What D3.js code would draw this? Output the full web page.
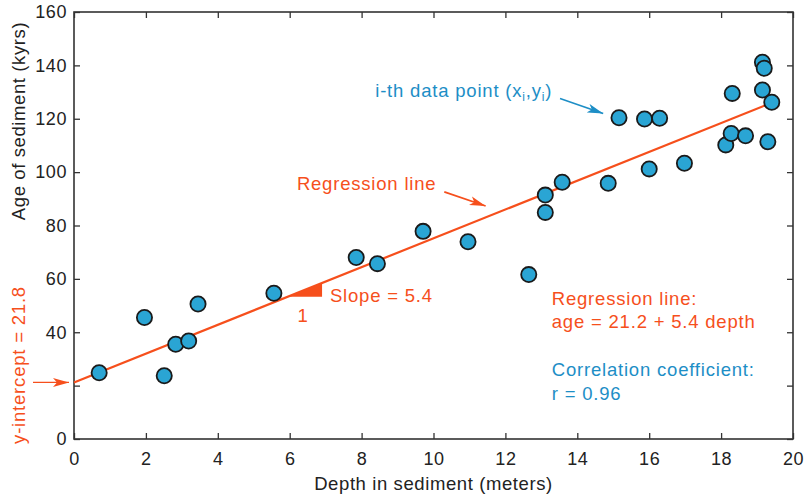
<!DOCTYPE html>
<html>
<head>
<meta charset="utf-8">
<script src="https://cdn.jsdelivr.net/npm/d3@7"></script>
<style>
  body { margin: 0; background: #fff; }
  svg text { font-family: "Liberation Sans", Arial, Helvetica, sans-serif; }
  .tick-label { font-size: 18px; fill: #222; letter-spacing: 0.6px; }
  .axis-title { font-size: 18.5px; fill: #222; letter-spacing: 0.6px; }
  .note { font-size: 18.5px; letter-spacing: 0.8px; }
</style>
</head>
<body>
<div id="chart"></div>
<script>
// Datos
const depth = [0.70, 1.96, 2.51, 2.83, 3.19, 3.45, 5.56, 7.85, 8.44, 9.71,
               10.96, 12.65, 13.11, 13.11, 13.58, 14.86, 15.16, 15.87, 16.29, 16.00,
               16.98, 18.13, 18.28, 18.68, 18.31, 19.30, 19.15, 19.41, 19.15, 19.20];
const age   = [24.8, 45.5, 23.7, 35.5, 36.7, 50.6, 54.6, 68.0, 65.7, 77.8,
               73.9, 61.6, 84.9, 91.4, 96.2, 95.8, 120.4, 119.9, 120.2, 101.2,
               103.3, 110.2, 114.5, 113.6, 129.5, 111.4, 130.8, 126.2, 141.2, 138.9];

const xTicks = [0, 2, 4, 6, 8, 10, 12, 14, 16, 18, 20];
const yTicks = [0, 20, 40, 60, 80, 100, 120, 140, 160];
// el 20 no lleva etiqueta (ahí va la flecha del intercepto)
const yHidden = [20];

const intercept = 21.2;
const slope = 5.4;
const lineRange = [0, 19.4];
const slopeStep = [5.95, 6.9];

const orange = "#f64f1c";
const blue = "#1d8ec6";
const pointFill = "#2aa5d4";

const margin = { top: 12, right: 14, bottom: 57, left: 74 };
const W = 807, H = 496;
const width = W - margin.left - margin.right;
const height = H - margin.top - margin.bottom;

const root = d3.select("#chart")
  .append("svg")
  .attr("width", W)
  .attr("height", H);

const defs = root.append("defs");
[["arrowOrange", orange], ["arrowBlue", blue]].forEach(([id, c]) => {
  defs.append("marker")
    .attr("id", id)
    .attr("viewBox", "0 0 16 10")
    .attr("refX", 16).attr("refY", 5)
    .attr("markerWidth", 16).attr("markerHeight", 10)
    .attr("markerUnits", "userSpaceOnUse")
    .attr("orient", "auto")
    .append("path")
    .attr("d", "M0,0.5 L16,5 L0,9.5 L4,5 Z")
    .attr("fill", c);
});

const svg = root.append("g")
  .attr("transform", `translate(${margin.left},${margin.top})`);

const x = d3.scaleLinear().domain([0, 20]).range([0, width]);
const y = d3.scaleLinear().domain([0, 160]).range([height, 0]);

// Ejes con ticks hacia adentro
svg.append("g")
  .attr("transform", `translate(0,${height})`)
  .call(d3.axisBottom(x).tickValues(xTicks).tickSize(-6).tickPadding(9).tickFormat(d3.format("d")))
  .call(g => g.select(".domain").remove())
  .call(g => g.selectAll("line").attr("stroke", "#333").attr("stroke-width", 1.3))
  .call(g => g.selectAll("text").attr("class", "tick-label").attr("font-size", null).attr("font-family", null).attr("dy", "0.95em"));

svg.append("g")
  .call(d3.axisLeft(y).tickValues(yTicks).tickSize(-6).tickPadding(7)
    .tickFormat(d => yHidden.includes(d) ? "" : d3.format("d")(d)))
  .call(g => g.select(".domain").remove())
  .call(g => g.selectAll("line").attr("stroke", "#333").attr("stroke-width", 1.3))
  .call(g => g.selectAll("text").attr("class", "tick-label").attr("font-size", null).attr("font-family", null));

svg.append("g")
  .call(d3.axisTop(x).tickValues(xTicks).tickSize(-6).tickFormat(""))
  .call(g => g.select(".domain").remove())
  .call(g => g.selectAll("line").attr("stroke", "#333").attr("stroke-width", 1.3));

svg.append("g")
  .attr("transform", `translate(${width},0)`)
  .call(d3.axisRight(y).tickValues(yTicks).tickSize(-6).tickFormat(""))
  .call(g => g.select(".domain").remove())
  .call(g => g.selectAll("line").attr("stroke", "#333").attr("stroke-width", 1.3));

svg.append("rect")
  .attr("width", width).attr("height", height)
  .attr("fill", "none")
  .attr("stroke", "#333")
  .attr("stroke-width", 1.6);

// Títulos
svg.append("text")
  .attr("class", "axis-title")
  .attr("x", x(10)).attr("y", height + 51)
  .attr("text-anchor", "middle")
  .text("Depth in sediment (meters)");

root.append("text")
  .attr("class", "axis-title")
  .attr("transform", "translate(25,121) rotate(-90)")
  .attr("text-anchor", "middle")
  .text("Age of sediment (kyrs)");

// Recta de regresión
svg.append("line")
  .attr("x1", x(lineRange[0])).attr("y1", y(intercept + slope * lineRange[0]))
  .attr("x2", x(lineRange[1])).attr("y2", y(intercept + slope * lineRange[1]))
  .attr("stroke", orange)
  .attr("stroke-width", 2.2);

// Triángulo de pendiente
const s0 = intercept + slope * slopeStep[0];
const s1 = intercept + slope * slopeStep[1];
svg.append("path")
  .attr("d", `M${x(slopeStep[0])},${y(s0)} L${x(slopeStep[1])},${y(s0)} L${x(slopeStep[1])},${y(s1)} Z`)
  .attr("fill", orange);

// Puntos
svg.selectAll(".pt")
  .data(depth.map((d, i) => ({ depth: d, age: age[i] })))
  .enter()
  .append("circle")
  .attr("class", "pt")
  .attr("cx", d => x(d.depth))
  .attr("cy", d => y(d.age))
  .attr("r", 7.6)
  .attr("fill", pointFill)
  .attr("stroke", "#1a1a1a")
  .attr("stroke-width", 1.8);

// Anotaciones
svg.append("text")
  .attr("class", "note").attr("fill", orange)
  .attr("x", x(7.12)).attr("y", y(51.3))
  .text("Slope = 5.4");

svg.append("text")
  .attr("class", "note").attr("fill", orange)
  .attr("x", x(6.37)).attr("y", y(44.0))
  .attr("text-anchor", "middle")
  .text("1");

svg.append("text")
  .attr("class", "note").attr("fill", orange)
  .attr("x", x(6.2)).attr("y", y(93.3))
  .text("Regression line");

svg.append("line")
  .attr("x1", x(10.3)).attr("y1", y(92.6))
  .attr("x2", x(11.45)).attr("y2", y(87.3))
  .attr("stroke", orange).attr("stroke-width", 1.6)
  .attr("marker-end", "url(#arrowOrange)");

const ith = svg.append("text")
  .attr("class", "note").attr("fill", blue)
  .attr("x", x(8.38)).attr("y", y(128.2));
ith.append("tspan").text("i-th data point (x");
ith.append("tspan").attr("font-size", "12px").attr("dy", 4).text("i");
ith.append("tspan").attr("dy", -4).text(",y");
ith.append("tspan").attr("font-size", "12px").attr("dy", 4).text("i");
ith.append("tspan").attr("dy", -4).text(")");

svg.append("line")
  .attr("x1", x(13.52)).attr("y1", y(127.6))
  .attr("x2", x(14.72)).attr("y2", y(122.0))
  .attr("stroke", blue).attr("stroke-width", 1.6)
  .attr("marker-end", "url(#arrowBlue)");

svg.append("text")
  .attr("class", "note").attr("fill", orange)
  .attr("x", x(13.29)).attr("y", y(50.2))
  .text("Regression line:");
svg.append("text")
  .attr("class", "note").attr("fill", orange)
  .attr("x", x(13.29)).attr("y", y(41.5))
  .text("age = 21.2 + 5.4 depth");

svg.append("text")
  .attr("class", "note").attr("fill", blue)
  .attr("x", x(13.29)).attr("y", y(23.5))
  .text("Correlation coefficient:");
svg.append("text")
  .attr("class", "note").attr("fill", blue)
  .attr("x", x(13.29)).attr("y", y(14.6))
  .text("r = 0.96");

// Intercepto
root.append("text")
  .attr("class", "note").attr("fill", orange)
  .attr("transform", "translate(25,365) rotate(-90)")
  .attr("text-anchor", "middle")
  .text("y-intercept = 21.8");

root.append("line")
  .attr("x1", 33).attr("y1", margin.top + y(intercept))
  .attr("x2", 69).attr("y2", margin.top + y(intercept))
  .attr("stroke", orange).attr("stroke-width", 1.4)
  .attr("marker-end", "url(#arrowOrange)");
</script>
</body>
</html>
